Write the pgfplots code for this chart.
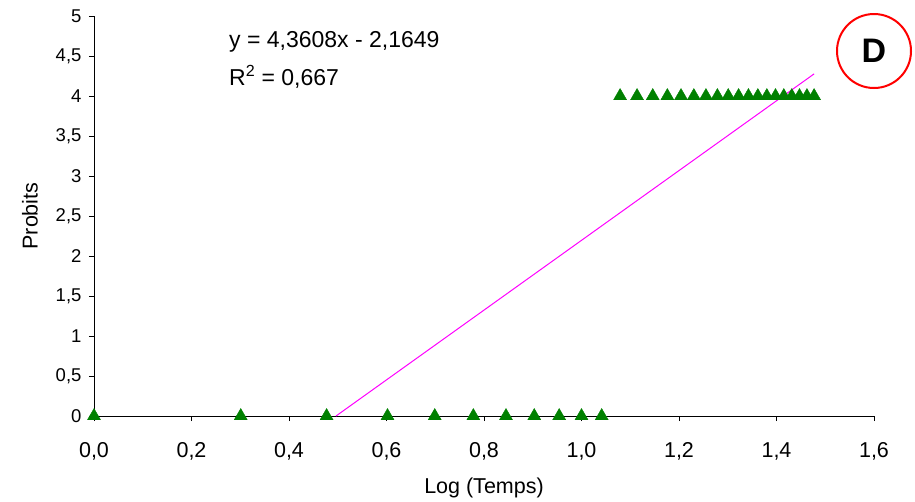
\documentclass[border=0pt]{standalone}
\usepackage{pgfplots}
\pgfplotsset{compat=1.18}
\usepackage{fontspec}
\setmainfont{Liberation Sans}
\definecolor{mkgreen}{RGB}{0,128,0}
\definecolor{magline}{RGB}{255,0,255}
\begin{document}
\begin{tikzpicture}[font=\fontsize{21}{25}\selectfont]
\begin{axis}[
  scale only axis, width=780pt, height=400pt,
  xmin=0, xmax=1.6, ymin=0, ymax=5,
  axis x line*=bottom, axis y line*=left,
  axis line style={black, line width=0.8pt, -},
  xtick={0,0.2,...,1.6}, ytick={0,0.5,...,5},
  tick align=outside, major tick length=5pt,
  tick style={black, line width=0.8pt},
  label style={font=\fontsize{21.5}{25}\selectfont},
  /pgf/number format/assume math mode=true,
  /pgf/number format/use comma,
  xticklabel style={font=\fontsize{21.5}{25}\selectfont, /pgf/number format/fixed, /pgf/number format/precision=1, /pgf/number format/fixed zerofill, yshift=-18pt},
  yticklabel style={font=\fontsize{18.5}{22}\selectfont, /pgf/number format/fixed, xshift=-4pt},
  xlabel={Log (Temps)}, ylabel={Probits},
  xlabel style={at={(axis description cs:0.5,-0.18)}, anchor=center},
  ylabel style={at={(axis description cs:-0.082,0.5)}, anchor=center, rotate=0},
  clip=false,
]
\addplot[only marks, mark=triangle*, mark size=7.5pt, mkgreen] coordinates {
(0,0) (0.30103,0) (0.47712,0) (0.60206,0) (0.69897,0) (0.77815,0) (0.84510,0) (0.90309,0) (0.95424,0) (1.0,0) (1.04139,0)
(1.07918,4) (1.11394,4) (1.14613,4) (1.17609,4) (1.20412,4) (1.23045,4) (1.25527,4) (1.27875,4) (1.30103,4) (1.32222,4)
(1.34242,4) (1.36173,4) (1.38021,4) (1.39794,4) (1.41497,4) (1.43136,4) (1.44716,4) (1.46240,4) (1.47712,4)
};
\addplot[magline, line width=1pt] coordinates {(0.49644,0) (1.47712,4.27644)};
\node[anchor=west, font=\fontsize{23}{27}\selectfont, inner sep=0pt] at (axis cs:0.2769,4.675) {y = 4,3608x - 2,1649};
\node[anchor=west, font=\fontsize{23}{27}\selectfont, inner sep=0pt] at (axis cs:0.2769,4.2375) {R\textsuperscript{2} = 0,667};
\draw[red, line width=2pt] (axis cs:1.6,4.5625) circle[radius=37pt];
\node[font=\fontsize{34}{40}\selectfont\bfseries] at (axis cs:1.6,4.5625) {D};
\end{axis}
\useasboundingbox (-94pt,-85pt) rectangle (821pt,416pt);
\end{tikzpicture}
\end{document}
